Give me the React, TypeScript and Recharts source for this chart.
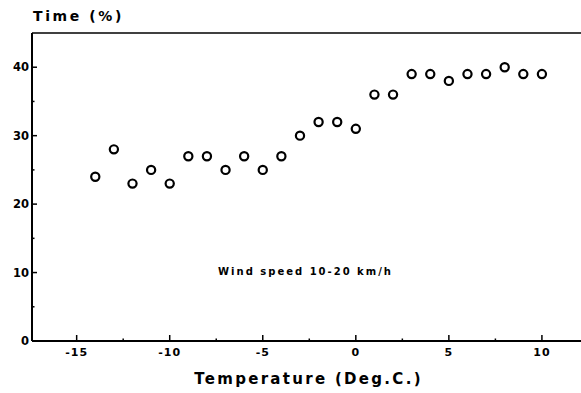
import { ScatterChart, Scatter, XAxis, YAxis, ReferenceLine, ReferenceDot } from "recharts";

const FONT = "'DejaVu Sans', sans-serif";

const temperature = [
  -14, -13, -12, -11, -10, -9, -8, -7, -6, -5, -4, -3, -2, -1, 0, 1, 2, 3, 4, 5, 6, 7, 8, 9, 10,
];
const timePercent = [
  24, 28, 23, 25, 23, 27, 27, 25, 27, 25, 27, 30, 32, 32, 31, 36, 36, 39, 39, 38, 39, 39, 40, 39, 39,
];

const xTicks = [-15, -12.5, -10, -7.5, -5, -2.5, 0, 2.5, 5, 7.5, 10];
const yTicks = [0, 5, 10, 15, 20, 25, 30, 35, 40];

const note = "Wind speed 10-20 km/h";

const data = temperature.map((t, i) => ({ t, pct: timePercent[i] }));

function XTick({ x, y, payload }: any) {
  const major = payload.value % 5 === 0;
  return (
    <g>
      <line x1={x} x2={x} y1={y} y2={y - (major ? 6 : 2.5)} stroke="#000" strokeWidth={1.5} />
      {major && (
        <text x={x} y={y + 15} textAnchor="middle" fontSize={11} fontWeight="bold" fontFamily={FONT} letterSpacing={1} fill="#000">
          {payload.value}
        </text>
      )}
    </g>
  );
}

function YTick({ x, y, payload }: any) {
  const major = payload.value % 10 === 0;
  return (
    <g>
      <line x1={x} x2={x + (major ? 5 : 2.5)} y1={y} y2={y} stroke="#000" strokeWidth={1.5} />
      {major && (
        <text x={x - 3} y={y + 4} textAnchor="end" fontSize={11.5} fontWeight="bold" fontFamily={FONT} fill="#000">
          {payload.value}
        </text>
      )}
    </g>
  );
}

function Ring(props: any) {
  return <circle cx={props.cx} cy={props.cy} r={4.1} fill="none" stroke="#000" strokeWidth={2.2} />;
}

export default function App() {
  return (
    <div style={{ position: "absolute", left: 0, top: 0, background: "#fff" }}>
      <ScatterChart width={581} height={393} margin={{ top: 33, right: 0, bottom: 22, left: 0 }}>
        <XAxis
          type="number"
          dataKey="t"
          domain={[-17.4, 12.1]}
          ticks={xTicks}
          interval={0}
          allowDataOverflow
          height={30}
          tickSize={0}
          tickMargin={0}
          tickLine={false}
          tick={<XTick />}
          axisLine={{ stroke: "#000", strokeWidth: 2 }}
          label={{
            content: ({ viewBox }: any) => (
              <text
                x={viewBox.x + viewBox.width / 2 + 2}
                y={viewBox.y + 43}
                textAnchor="middle"
                fontSize={15}
                fontWeight="bold"
                fontFamily={FONT}
                letterSpacing={2.3}
                fill="#000"
              >
                Temperature (Deg.C.)
              </text>
            ),
          }}
        />
        <YAxis
          type="number"
          dataKey="pct"
          domain={[0, 45]}
          ticks={yTicks}
          interval={0}
          allowDataOverflow
          width={32}
          tickSize={0}
          tickMargin={0}
          tickLine={false}
          tick={<YTick />}
          axisLine={{ stroke: "#000", strokeWidth: 2 }}
          label={{
            content: ({ viewBox }: any) => (
              <text
                x={viewBox.x + 33}
                y={viewBox.y - 12}
                fontSize={14}
                fontWeight="bold"
                fontFamily={FONT}
                letterSpacing={2.6}
                fill="#000"
              >
                Time (%)
              </text>
            ),
          }}
        />
        <ReferenceLine y={45} stroke="#000" strokeWidth={1.5} />
        <ReferenceDot
          x={-7.4}
          y={10.2}
          r={1}
          fill="none"
          stroke="none"
          label={{
            content: ({ viewBox }: any) => (
              <text
                x={viewBox.x + 1}
                y={viewBox.y + 4.5}
                fontSize={10}
                fontWeight="bold"
                fontFamily={FONT}
                letterSpacing={2}
                fill="#000"
              >
                {note}
              </text>
            ),
          }}
        />
        <Scatter data={data} shape={<Ring />} isAnimationActive={false} />
      </ScatterChart>
    </div>
  );
}
